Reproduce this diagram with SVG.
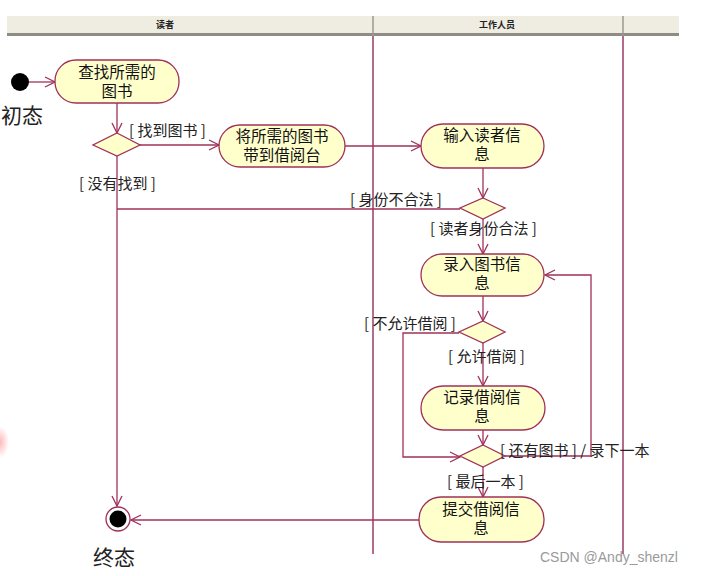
<svg xmlns="http://www.w3.org/2000/svg" width="707" height="576" viewBox="0 0 707 576">
<style>
.act{fill:#ffffcc;stroke:#a0305a;stroke-width:1.3}
.dia{fill:#ffffcc;stroke:#a0305a;stroke-width:1.3}
.c{fill:none;stroke:#a0305a;stroke-width:1.3}
.lane{stroke:#8a1e4e;stroke-width:1.3}
.t{font-family:"Noto Sans CJK SC","Liberation Sans",sans-serif;font-size:15.5px;fill:#111;text-anchor:middle}
.l{font-family:"Noto Sans CJK SC","Liberation Sans",sans-serif;font-size:15px;fill:#222}
.big{font-family:"Noto Sans CJK SC","Liberation Sans",sans-serif;font-size:21px;fill:#222}
.h{font-family:"Noto Sans CJK SC","Liberation Sans",sans-serif;font-size:9px;font-weight:bold;fill:#222;text-anchor:middle}
</style>
<defs>
<marker id="arr" markerWidth="12" markerHeight="12" refX="11" refY="6" orient="auto" markerUnits="userSpaceOnUse">
<path d="M1,1 L11,6 L1,11" fill="none" stroke="#a0305a" stroke-width="1.3"/>
</marker>
<radialGradient id="glow"><stop offset="0" stop-color="#ff7070" stop-opacity="0.5"/><stop offset="1" stop-color="#ff7070" stop-opacity="0"/></radialGradient>
</defs>
<rect width="707" height="576" fill="#fff"/>
<ellipse cx="0" cy="442" rx="9" ry="16" fill="url(#glow)"/>
<g id="header">
<rect x="7" y="16" width="672" height="18" fill="#efece1"/>
<rect x="7" y="33" width="672" height="3" fill="#8e8c84"/>
<line x1="373" y1="16" x2="373" y2="36" stroke="#9a9890" stroke-width="1.5"/>
<line x1="623" y1="16" x2="623" y2="36" stroke="#9a9890" stroke-width="1.5"/>
<text class="h" x="165" y="28">读者</text>
<text class="h" x="497" y="28">工作人员</text>
</g>
<g id="lanes">
<line class="lane" x1="373" y1="36" x2="373" y2="554"/>
<line class="lane" x1="623" y1="36" x2="623" y2="554"/>
</g>
<g id="connectors">
<line class="c" x1="29" y1="82" x2="55" y2="82" marker-end="url(#arr)"/>
<line class="c" x1="117" y1="103" x2="117" y2="133" marker-end="url(#arr)"/>
<line class="c" x1="140" y1="145" x2="219" y2="145" marker-end="url(#arr)"/>
<line class="c" x1="117" y1="156" x2="117" y2="506" marker-end="url(#arr)"/>
<line class="c" x1="345" y1="146" x2="421" y2="146" marker-end="url(#arr)"/>
<line class="c" x1="483" y1="168" x2="483" y2="198" marker-end="url(#arr)"/>
<polyline class="c" points="460,209 117,209"/>
<line class="c" x1="483" y1="219" x2="483" y2="254" marker-end="url(#arr)"/>
<line class="c" x1="483" y1="296" x2="483" y2="321" marker-end="url(#arr)"/>
<polyline class="c" points="459,333 403,333 403,457 460,457" marker-end="url(#arr)"/>
<line class="c" x1="483" y1="343" x2="483" y2="386" marker-end="url(#arr)"/>
<line class="c" x1="483" y1="430" x2="483" y2="445" marker-end="url(#arr)"/>
<polyline class="c" points="505,456 591,456 591,275 545,275" marker-end="url(#arr)"/>
<line class="c" x1="483" y1="467" x2="483" y2="497" marker-end="url(#arr)"/>
<line class="c" x1="420" y1="520" x2="131" y2="520" marker-end="url(#arr)"/>
</g>
<g id="start">
<circle cx="20" cy="82" r="9" fill="#000"/>
<text class="big" x="1" y="123">初态</text>
</g>
<g id="a1">
<rect class="act" x="55" y="60" width="124" height="43" rx="21"/>
<text class="t" x="117" y="78">查找所需的</text>
<text class="t" x="117" y="97">图书</text>
</g>
<g id="d1">
<polygon class="dia" points="117,133 140,145 117,156 93,145"/>
<text class="l" x="129" y="136">[ 找到图书 ]</text>
<text class="l" x="79" y="189">[ 没有找到 ]</text>
</g>
<g id="a2">
<rect class="act" x="219" y="125" width="126" height="42" rx="21"/>
<text class="t" x="282" y="142">将所需的图书</text>
<text class="t" x="282" y="161">带到借阅台</text>
</g>
<g id="a3">
<rect class="act" x="421" y="124" width="123" height="44" rx="22"/>
<text class="t" x="482" y="141">输入读者信</text>
<text class="t" x="482" y="160">息</text>
</g>
<g id="d2">
<polygon class="dia" points="483,198 505,208 483,219 460,208"/>
<text class="l" x="350" y="205">[ 身份不合法 ]</text>
<text class="l" x="430" y="234">[ 读者身份合法 ]</text>
</g>
<g id="a4">
<rect class="act" x="421" y="254" width="123" height="42" rx="21"/>
<text class="t" x="482" y="270">录入图书信</text>
<text class="t" x="482" y="289">息</text>
</g>
<g id="d3">
<polygon class="dia" points="483,321 505,332 483,343 459,332"/>
<text class="l" x="364" y="329">[ 不允许借阅 ]</text>
<text class="l" x="448" y="362">[ 允许借阅 ]</text>
</g>
<g id="a5">
<rect class="act" x="421" y="386" width="124" height="44" rx="22"/>
<text class="t" x="482" y="403">记录借阅信</text>
<text class="t" x="482" y="422">息</text>
</g>
<g id="d4">
<polygon class="dia" points="483,445 505,456 483,467 460,456"/>
<text class="l" x="500" y="456">[ 还有图书 ] / 录下一本</text>
<text class="l" x="447" y="487">[ 最后一本 ]</text>
</g>
<g id="a6">
<rect class="act" x="419" y="497" width="125" height="45" rx="22"/>
<text class="t" x="481" y="515">提交借阅信</text>
<text class="t" x="481" y="534">息</text>
</g>
<g id="end">
<circle cx="118" cy="519" r="12" fill="#fff" stroke="#a0305a" stroke-width="1.3"/>
<circle cx="118" cy="519" r="8.5" fill="#000"/>
<text class="big" x="93" y="565">终态</text>
</g>
<text x="540" y="562" font-family="Liberation Sans, sans-serif" font-size="14" fill="#9a9a9a">CSDN @Andy_shenzl</text>
</svg>
